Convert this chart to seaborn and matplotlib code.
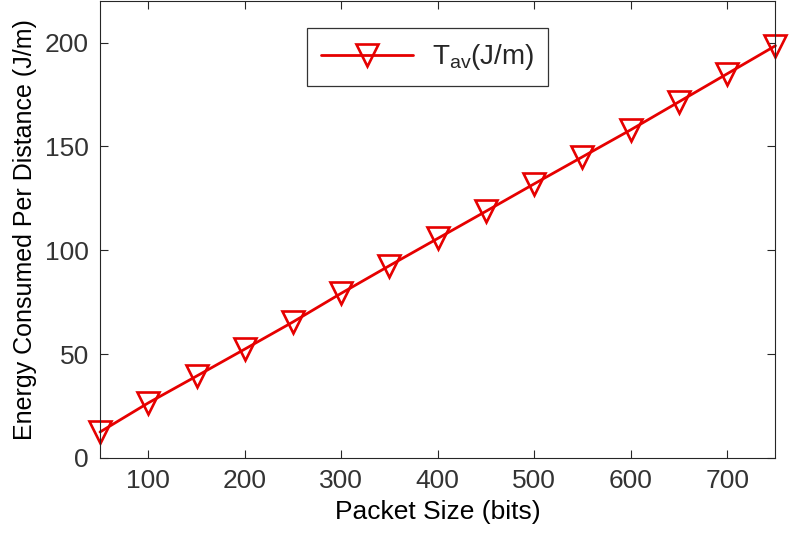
import matplotlib

matplotlib.use("Agg")
import matplotlib.pyplot as plt
import pandas as pd
import seaborn as sns

# Data
packet_size = [50, 100, 150, 200, 250, 300, 350, 400, 450, 500, 550, 600, 650, 700, 750]
energy = [12.5, 26.5, 39.4, 52.4, 65.5, 79.3, 92.6, 105.7, 118.8, 132.0, 145.0, 158.0, 171.5, 185.0, 198.5]
x_ticks = [100, 200, 300, 400, 500, 600, 700]
y_ticks = [0, 50, 100, 150, 200]
series_label = r"T$_{\mathrm{av}}$(J/m)"

df = pd.DataFrame({"Packet Size": packet_size, "Energy": energy})

sns.set_style("ticks")
plt.rcParams["font.family"] = ["Liberation Sans", "DejaVu Sans"]
plt.rcParams["mathtext.fontset"] = "custom"
plt.rcParams["mathtext.rm"] = "Liberation Sans"
plt.rcParams["mathtext.it"] = "Liberation Sans:italic"

fig = plt.figure(figsize=(7.9, 5.35), dpi=100)
ax = fig.add_axes([0.1266, 0.144, 0.855, 0.854])

red = "#e60000"
sns.lineplot(
    data=df,
    x="Packet Size",
    y="Energy",
    ax=ax,
    color=red,
    linewidth=2.0,
    marker="v",
    markersize=16,
    markerfacecolor="none",
    markeredgecolor=red,
    markeredgewidth=1.9,
    label=series_label,
    clip_on=False,
)

ax.set_xlim(50, 750)
ax.set_ylim(0, 220)
ax.set_xticks(x_ticks)
ax.set_yticks(y_ticks)

axis_grey = "#262626"
for side in ["top", "right", "left", "bottom"]:
    ax.spines[side].set_visible(True)
    ax.spines[side].set_color(axis_grey)
    ax.spines[side].set_linewidth(0.8)
ax.tick_params(
    direction="in", length=6, width=0.8, top=True, right=True,
    labelsize=19, colors=axis_grey, pad=8,
)
for lab in ax.get_xticklabels() + ax.get_yticklabels():
    lab.set_color("#333333")

ax.set_xlabel("Packet Size (bits)", fontsize=19, color="black", labelpad=5)
ax.set_ylabel("Energy Consumed Per Distance (J/m)", fontsize=18, color="black", labelpad=6)

leg = ax.legend(
    loc="upper left",
    bbox_to_anchor=(0.307, 0.94),
    fontsize=20,
    frameon=True,
    fancybox=False,
    edgecolor="black",
    handlelength=3.3,
    handletextpad=0.7,
    borderpad=0.5,
    borderaxespad=0,
)
leg.get_frame().set_linewidth(0.9)

fig.savefig("out.png", dpi=100)
plt.close(fig)
